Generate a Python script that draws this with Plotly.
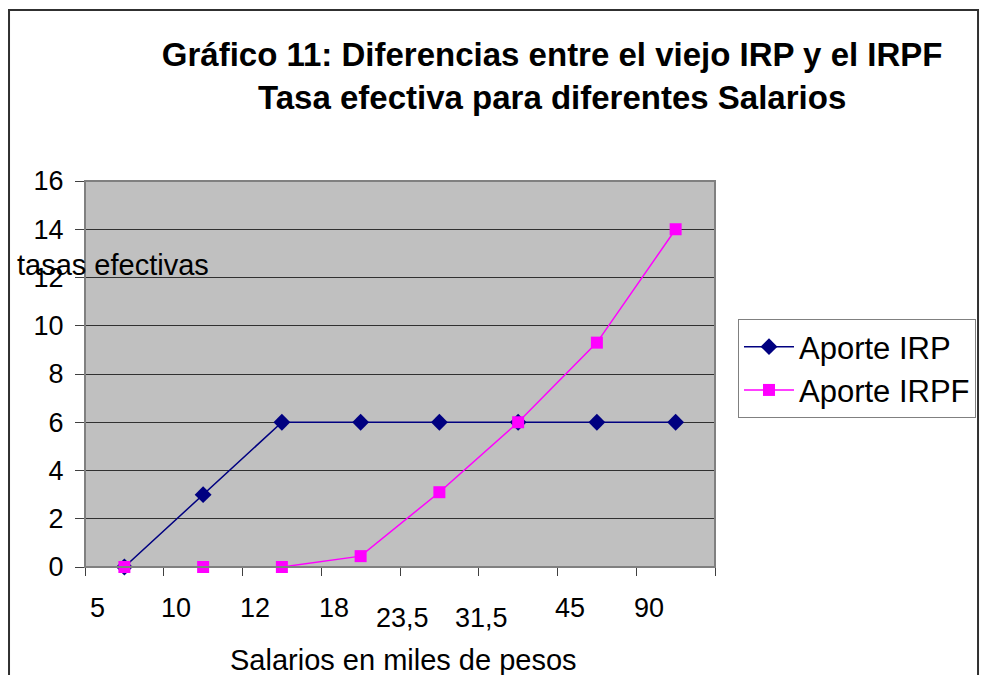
import plotly.graph_objects as go

# Salarios en miles de pesos (categorías del eje x)
salarios = ["5", "10", "12", "18", "23,5", "31,5", "45", "90"]
aporte_irp = [0, 3, 6, 6, 6, 6, 6, 6]
aporte_irpf = [0, 0, 0, 0.45, 3.1, 6.0, 9.3, 14.0]
y_ticks = [0, 2, 4, 6, 8, 10, 12, 14, 16]

# posiciones de categoría
pos = list(range(len(salarios)))

fig = go.Figure()

fig.add_trace(go.Scatter(
    x=pos, y=aporte_irp, name="Aporte IRP",
    mode="lines+markers",
    line=dict(color="#000080", width=1.5),
    marker=dict(symbol="diamond", size=13, color="#000080"),
    cliponaxis=False,
))
fig.add_trace(go.Scatter(
    x=pos, y=aporte_irpf, name="Aporte IRPF",
    mode="lines+markers",
    line=dict(color="#FF00FF", width=1.5),
    marker=dict(symbol="square", size=12, color="#FF00FF"),
    cliponaxis=False,
))

font = "Arial, Liberation Sans, sans-serif"

# etiquetas del eje x como en Excel (desplazadas y escalonadas)
annots = []
for i, s in enumerate(salarios):
    escalon = s in ("23,5", "31,5")
    annots.append(dict(
        x=i, xref="x", y=0, yref="paper", yanchor="middle",
        text=s, showarrow=False,
        xshift=-37 if escalon else -27,
        yshift=-51 if escalon else -41,
        font=dict(size=27, color="black"),
    ))

annots.append(dict(
    x=-0.111, y=0.782, xref="paper", yref="paper",
    xanchor="left", yanchor="middle",
    text="tasas efectivas", showarrow=False,
    font=dict(size=29, color="black"),
))
annots.append(dict(
    x=0.505, y=-0.241, xref="paper", yref="paper",
    xanchor="center", yanchor="middle",
    text="Salarios en miles de pesos", showarrow=False,
    font=dict(size=29, color="black"),
))

# marcas entre categorías
bordes = [p - 0.5 for p in pos] + [pos[-1] + 0.5]

fig.update_layout(
    width=984, height=667,
    paper_bgcolor="white",
    plot_bgcolor="#C0C0C0",
    margin=dict(l=77, r=277, t=173, b=108),
    font=dict(family=font, size=24, color="black"),
    title=dict(
        text="<b>Gráfico 11: Diferencias entre el viejo IRP y el IRPF<br>Tasa efectiva para diferentes Salarios</b>",
        x=0.553, xanchor="center", y=0.9135, yanchor="middle",
        font=dict(size=33, color="black"),
    ),
    xaxis=dict(
        range=[-0.5, len(salarios) - 0.5], tickvals=bordes,
        showticklabels=False, showgrid=False,
        ticks="outside", ticklen=8,
        tickcolor="#404040", showline=True, linecolor="black", linewidth=1,
        zeroline=False,
    ),
    yaxis=dict(
        range=[0, 16], tickvals=y_ticks, ticks="outside", ticklen=9,
        tickcolor="#404040", showgrid=True, gridcolor="#303030", gridwidth=1,
        showline=True, linecolor="#404040", linewidth=1, zeroline=False,
        tickfont=dict(size=27), ticklabelstandoff=6,
    ),
    legend=dict(
        x=1.0365, y=0.6425, xanchor="left", yanchor="top",
        bordercolor="#808080", borderwidth=1, bgcolor="white",
        font=dict(size=31), itemwidth=50,
    ),
    annotations=annots,
    shapes=[
        # borde gris del área de trazado
        dict(type="rect", xref="paper", yref="paper", x0=0, y0=0, x1=1, y1=1,
             line=dict(color="#808080", width=2)),
        # borde exterior del gráfico
        dict(type="rect", xref="paper", yref="paper",
             x0=-0.1206, y0=-0.3, x1=1.4175, y1=1.443,
             line=dict(color="#303030", width=2)),
    ],
    showlegend=True,
)

fig.write_html("out.html")
